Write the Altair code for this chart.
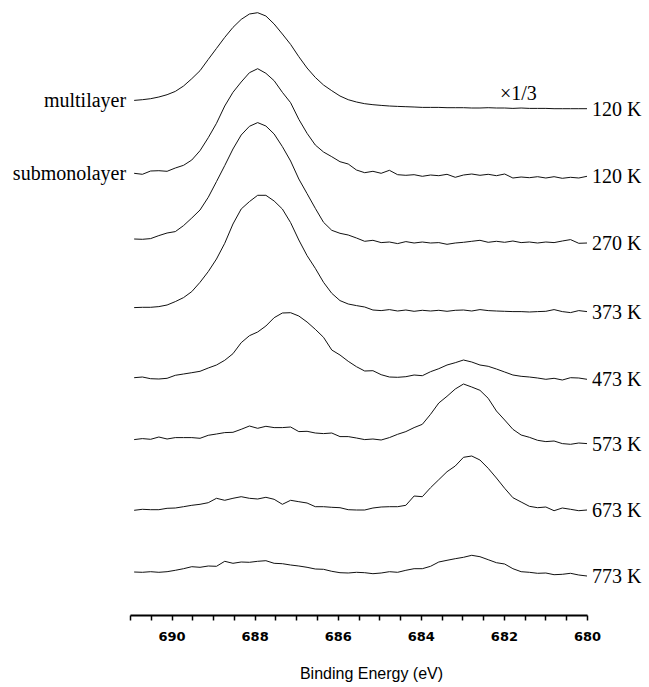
import altair as alt
import numpy as np
import pandas as pd

# ---------------- data ----------------
ENERGY_START = 690.9
ENERGY_END = 680.0
N_POINTS = 56
energy = [float(v) for v in np.round(np.linspace(ENERGY_START, ENERGY_END, N_POINTS), 4)]

series_names = ["multilayer 120 K", "submonolayer 120 K", "270 K", "373 K",
                "473 K", "573 K", "673 K", "773 K"]
right_labels = ["120 K", "120 K", "270 K", "373 K", "473 K", "573 K", "673 K", "773 K"]
left_labels = {"multilayer 120 K": "multilayer", "submonolayer 120 K": "submonolayer"}
# vertical stacking offsets of the spectra (arbitrary intensity units)
offsets = [506.3, 437.0, 370.7, 302.7, 235.0, 170.7, 104.0, 40.0]

multilayer_120 = [8.3, 9.0, 10.0, 11.7, 14.0, 17.3, 22.7, 30.0, 38.0, 49.3,
                  60.3, 71.3, 81.3, 89.3, 94.7, 96.0, 92.7, 84.7, 74.7, 64.3,
                  52.0, 40.7, 31.3, 23.7, 18.0, 12.7, 9.0, 6.7, 5.0, 4.0,
                  3.3, 2.7, 2.3, 2.0, 1.7, 1.3, 1.3, 1.3, 1.0, 1.0,
                  1.0, 0.7, 0.7, 1.0, 0.7, 0.7, 0.3, 0.7, 0.3, 0.3,
                  0.3, 0.0, 0.0, 0.0, 0.0, 0.0]
submono_120 = [4.7, 3.7, 7.0, 7.3, 6.7, 10.0, 12.7, 18.0, 27.3, 40.3,
               54.7, 72.0, 85.7, 96.0, 105.3, 109.3, 104.7, 97.3, 85.7, 75.3,
               58.7, 44.7, 33.0, 26.0, 21.3, 16.3, 14.0, 8.0, 5.3, 6.7,
               4.7, 7.7, 3.3, 2.7, 3.3, 1.7, 3.0, 2.3, 3.7, 0.7,
               3.0, 4.0, 2.7, 3.7, 2.3, 4.0, 0.0, 1.0, 0.3, 1.3,
               0.0, 1.3, -0.3, 0.7, 0.0, 1.7]
t270 = [5.3, 5.0, 5.7, 8.7, 11.3, 12.7, 18.7, 26.3, 34.3, 47.0,
        62.7, 78.7, 95.3, 109.3, 118.0, 121.7, 118.3, 110.3, 97.7, 83.3,
        65.3, 50.7, 36.0, 22.0, 14.0, 11.0, 9.3, 6.3, 3.0, 4.0,
        1.7, 2.3, 0.7, 2.7, 1.3, 2.3, 1.3, 1.7, 0.0, 1.3,
        2.0, 3.0, 4.0, 2.0, 3.0, 2.0, 3.3, 1.7, 2.3, 1.3,
        2.3, 1.7, 3.3, 4.7, 1.0, 1.3]
t373 = [4.7, 5.0, 5.0, 5.7, 7.3, 10.7, 14.7, 20.7, 30.0, 40.7,
        53.3, 69.0, 88.3, 103.3, 110.7, 117.0, 117.0, 111.3, 103.3, 89.7,
        72.3, 56.7, 44.0, 30.0, 19.0, 11.7, 8.3, 6.7, 5.3, 2.3,
        1.7, 2.7, 1.3, 2.3, 1.0, 2.0, 1.3, 2.0, 1.0, 2.0,
        2.3, 1.3, 2.7, 1.7, 1.3, 1.0, 0.7, 0.7, 0.3, 0.7,
        1.0, 2.7, 0.7, -0.3, 1.7, 0.7]
t473 = [2.3, 3.0, 1.3, 1.0, 1.7, 4.7, 6.0, 7.3, 8.7, 12.0,
        15.0, 19.7, 26.3, 37.3, 44.3, 48.0, 54.0, 62.3, 67.0, 67.3,
        64.0, 58.0, 50.7, 42.7, 30.0, 25.0, 18.7, 13.3, 9.0, 9.3,
        5.3, 3.0, 2.7, 3.3, 5.0, 4.3, 8.3, 11.3, 15.0, 17.3,
        20.0, 18.0, 15.0, 13.7, 11.0, 8.0, 5.0, 3.7, 3.0, 2.0,
        0.7, 1.7, 0.0, 2.3, 2.0, 0.7]
t573 = [4.7, 5.7, 5.0, 7.3, 5.3, 6.7, 6.7, 6.7, 6.0, 9.0,
        10.3, 11.7, 12.0, 15.0, 18.3, 16.0, 18.0, 16.7, 16.7, 17.3,
        12.7, 13.0, 11.3, 10.7, 11.3, 7.7, 7.7, 6.3, 4.7, 5.3,
        4.3, 6.7, 10.0, 12.7, 16.7, 20.0, 30.0, 41.3, 48.0, 55.3,
        60.3, 57.3, 54.0, 46.0, 33.3, 24.3, 15.0, 9.3, 7.0, 4.0,
        2.7, 3.3, 0.7, 0.0, 1.3, 0.7]
t673 = [0.7, 1.7, 1.3, 1.3, 2.7, 3.0, 4.3, 5.7, 6.7, 8.3,
        12.7, 10.7, 12.7, 14.3, 12.7, 12.0, 13.7, 11.7, 6.7, 10.7,
        9.3, 8.0, 4.3, 4.3, 3.7, 3.3, 1.3, 1.0, 1.0, 3.0,
        4.0, 4.3, 4.3, 5.7, 15.0, 14.3, 23.3, 31.3, 39.3, 45.0,
        53.7, 55.0, 51.0, 42.7, 33.0, 22.7, 13.3, 9.0, 4.7, 3.3,
        4.0, 0.3, 3.0, 1.7, 0.3, 1.0]
t773 = [3.0, 2.7, 3.3, 2.7, 3.3, 4.7, 6.3, 8.3, 7.7, 9.0,
        8.7, 13.7, 11.7, 13.0, 12.7, 13.7, 14.3, 11.7, 11.3, 10.0,
        9.0, 7.7, 6.0, 5.7, 3.7, 2.3, 2.0, 2.7, 2.3, 1.3,
        2.0, 3.3, 2.7, 4.7, 6.3, 6.3, 8.7, 13.0, 14.7, 16.3,
        17.7, 19.7, 18.3, 15.3, 12.3, 11.0, 6.3, 3.3, 2.7, 1.7,
        2.0, 0.3, 0.7, 1.7, 0.0, -1.0]

spectra = [multilayer_120, submono_120, t270, t373, t473, t573, t673, t773]

axis_ticks = [round(691 - 0.5 * k, 1) for k in range(23)]
scale_note = "×1/3"
scale_note_energy = 681.65
scale_note_rise = 14.5

# ---------------- tables ----------------
rows = []
for name, off, vals in zip(series_names, offsets, spectra):
    for e, v in zip(energy, vals):
        rows.append({"series": name, "energy": e, "signal": off + v})
df = pd.DataFrame(rows)

right_df = pd.DataFrame({
    "label": right_labels,
    "energy": [energy[-1]] * len(series_names),
    "signal": [o + s[-1] for o, s in zip(offsets, spectra)],
})
left_df = pd.DataFrame({
    "label": [left_labels[n] for n in series_names[:2]],
    "energy": [energy[0]] * 2,
    "signal": [offsets[i] + spectra[i][0] for i in range(2)],
})
note_df = pd.DataFrame({"label": [scale_note], "energy": [scale_note_energy],
                        "signal": [offsets[0] + scale_note_rise]})

# ---------------- chart ----------------
W, H = 457, 615
xscale = alt.Scale(domain=[691, 680], nice=False, zero=False)
yscale = alt.Scale(domain=[0, H], nice=False, zero=False)

x_axis = alt.Axis(
    values=axis_ticks,
    labelExpr="datum.value % 2 == 0 ? format(datum.value, 'd') : ''",
    title="Binding Energy (eV)",
    grid=False, domainColor="black", domainWidth=2,
    tickColor="black", tickWidth=1.5, tickSize=5,
    labelFont="DejaVu Sans", labelFontWeight="bold", labelFontSize=13,
    labelColor="black", labelPadding=10, labelFlush=False,
    titleFont="Liberation Sans", titleFontSize=16, titleFontWeight="normal",
    titleColor="black", titleX=241, titleY=58, titleBaseline="middle",
    titleAlign="center",
)
x_enc = alt.X("energy:Q", scale=xscale, axis=x_axis)
y_enc = alt.Y("signal:Q", scale=yscale, axis=None)

lines = alt.Chart(df).mark_line(color="#111", strokeWidth=1.0).encode(
    x=x_enc, y=y_enc, detail="series:N"
)

text_common = dict(font="Liberation Serif", fontSize=20, color="black", baseline="middle")

right_text = alt.Chart(right_df).mark_text(align="left", dx=5, dy=1, **text_common).encode(
    x=x_enc, y=y_enc, text="label:N"
)
left_text = alt.Chart(left_df).mark_text(align="right", dx=-8, dy=1, **text_common).encode(
    x=x_enc, y=y_enc, text="label:N"
)
note_text = alt.Chart(note_df).mark_text(align="center", **text_common).encode(
    x=x_enc, y=y_enc, text="label:N"
)

chart = alt.layer(lines, right_text, left_text, note_text).properties(
    width=W, height=H,
    background="white",
    autosize=alt.AutoSizeParams(type="none"),
    padding={"left": 130, "right": 62, "top": 0, "bottom": 72},
).configure_view(stroke=None)

chart.save("out.html", embed_options={"renderer": "svg", "actions": False})
